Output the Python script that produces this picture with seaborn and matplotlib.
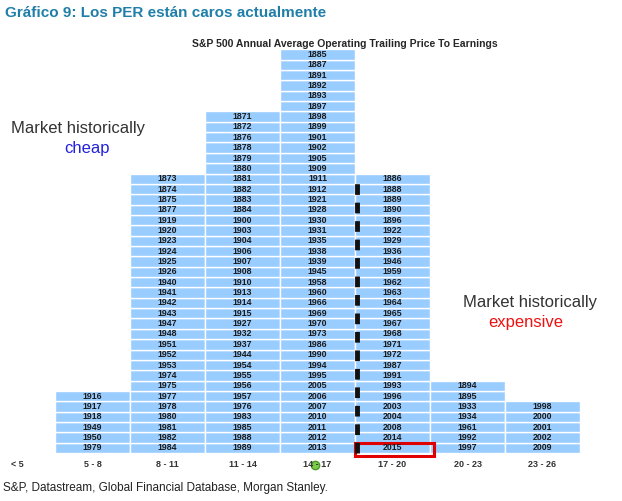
import numpy as np
import pandas as pd
import seaborn as sns
import matplotlib.pyplot as plt
from matplotlib.patches import Rectangle

bins = ["< 5", "5 - 8", "8 - 11", "11 - 14", "14 - 17", "17 - 20", "20 - 23", "23 - 26"]
years_lt5 = []
years_5_8 = [1979, 1950, 1949, 1918, 1917, 1916]
years_8_11 = [1984, 1982, 1981, 1980, 1978, 1977, 1975, 1974, 1953, 1952, 1951, 1948, 1947,
              1943, 1942, 1941, 1940, 1926, 1925, 1924, 1923, 1920, 1919, 1877, 1875, 1874, 1873]
years_11_14 = [1989, 1988, 1985, 1983, 1976, 1957, 1956, 1955, 1954, 1944, 1937, 1932, 1927,
               1915, 1914, 1913, 1910, 1908, 1907, 1906, 1904, 1903, 1900, 1884, 1883, 1882,
               1881, 1880, 1879, 1878, 1876, 1872, 1871]
years_14_17 = [2013, 2012, 2011, 2010, 2007, 2006, 2005, 1995, 1994, 1990, 1986, 1973, 1970,
               1969, 1966, 1960, 1958, 1945, 1939, 1938, 1935, 1931, 1930, 1928, 1921, 1912,
               1911, 1909, 1905, 1902, 1901, 1899, 1898, 1897, 1893, 1892, 1891, 1887, 1885]
years_17_20 = [2015, 2014, 2008, 2004, 2003, 1996, 1993, 1991, 1987, 1972, 1971, 1968, 1967,
               1965, 1964, 1963, 1962, 1959, 1946, 1936, 1929, 1922, 1896, 1890, 1889, 1888, 1886]
years_20_23 = [1997, 1992, 1961, 1934, 1933, 1895, 1894]
years_23_26 = [2009, 2002, 2001, 2000, 1998]
columns = [years_lt5, years_5_8, years_8_11, years_11_14, years_14_17,
           years_17_20, years_20_23, years_23_26]

rows = []
for i, ys in enumerate(columns):
    for j, y in enumerate(ys):
        rows.append({"bin": i, "level": j, "year": y})
df = pd.DataFrame(rows)

sns.set_style("white")
plt.rcParams["font.family"] = "Liberation Sans"
fig = plt.figure(figsize=(6.22, 5.01), dpi=100)
ax = fig.add_axes([0, 0, 1, 1])
ax.set_xlim(-17.5 / 75, (622 - 17.5) / 75)
ax.set_ylim((453 - 501) / 10.35, 453 / 10.35)
ax.axis("off")

ax.bar(df["bin"], 1, bottom=df["level"], width=1, color="#99CCFF",
       edgecolor="white", linewidth=1, align="center")
for _, r in df.iterrows():
    ax.text(r["bin"], r["level"] + 0.5, str(r["year"]), ha="center", va="center",
            fontsize=6.3, fontweight="bold", color="#1a1a1a")

for i, b in enumerate(bins):
    ax.text(i, -1.15, b, ha="center", va="center", fontsize=6.5,
            fontweight="bold", color="#333333")
ax.plot([3.97], [-1.15], "o", color="#7CCB4A", markersize=6, markeredgecolor="#4a9a2a")

# current PE dashed line
ax.plot([4.53, 4.53], [0, 26.5], color="#111111", linewidth=3.5, dashes=(2.2, 1.6))
# highlight 2015
ax.add_patch(Rectangle((4.5, -0.25), 1.05, 1.2, fill=False, edgecolor="#E00000", linewidth=2.2))

fig.text(0.008, 0.975, "Gráfico 9: Los PER están caros actualmente", fontsize=11,
         fontweight="bold", color="#1F7FA8", va="center")
fig.text(0.555, 0.913, "S&P 500 Annual Average Operating Trailing Price To Earnings",
         fontsize=7.5, fontweight="bold", ha="center", va="center")
fig.text(0.018, 0.744, "Market historically", fontsize=12, color="#333333", va="center")
fig.text(0.14, 0.704, "cheap", fontsize=12, color="#2222DD", ha="center", va="center")
fig.text(0.745, 0.397, "Market historically", fontsize=12, color="#333333", va="center")
fig.text(0.845, 0.357, "expensive", fontsize=12, color="#EE1111", ha="center", va="center")
fig.text(0.005, 0.026, "S&P, Datastream, Global Financial Database, Morgan Stanley.",
         fontsize=8.5, color="#222222", va="center")

fig.savefig("out.png", dpi=100)
